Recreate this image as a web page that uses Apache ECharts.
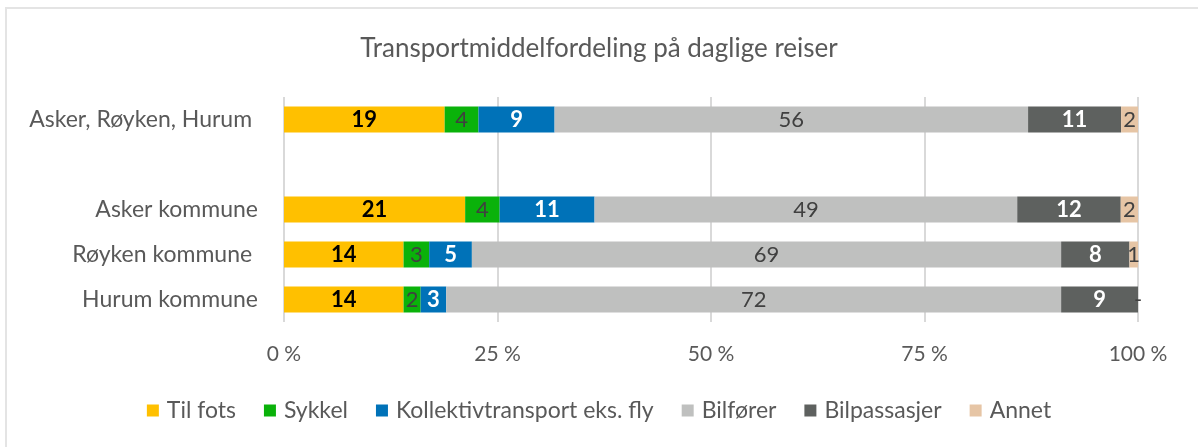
<!DOCTYPE html>
<html>
<head>
<meta charset="utf-8">
<script src="https://cdn.jsdelivr.net/npm/echarts@6/dist/echarts.min.js"></script>
<style>
  html, body { margin: 0; padding: 0; background: #fff; }
  #chart { width: 1198px; height: 447px; }
</style>
</head>
<body>
<div id="chart"></div>
<script>
// areas (the empty one is the gap row)
const areas = ['Asker, Røyken, Hurum ', '', 'Asker kommune', 'Røyken kommune ', 'Hurum kommune']

// share in percent, as labelled in the chart
const tilFots = [19, null, 21, 14, 14]
const sykkel = [4, null, 4, 3, 2]
const kollektiv = [9, null, 11, 5, 3]
const bilforer = [56, null, 49, 69, 72]
const bilpassasjer = [11, null, 12, 8, 9]
const annet = [2, null, 2, 1, 0]

const xTicks = ['0 %', '25 %', '50 %', '75 %', '100 %']

const font = 'Lato'
const groups = [
  { name: 'Til fots', data: tilFots, color: '#FFC000', text: '#000', bold: true },
  { name: 'Sykkel', data: sykkel, color: '#0AB20A', text: '#404040', bold: false },
  { name: 'Kollektivtransport eks. fly', data: kollektiv, color: '#0072B8', text: '#fff', bold: true },
  { name: 'Bilfører', data: bilforer, color: '#BFC0BF', text: '#404040', bold: false },
  { name: 'Bilpassasjer', data: bilpassasjer, color: '#5E615F', text: '#fff', bold: true },
  { name: 'Annet', data: annet, color: '#E6C5A5', text: '#404040', bold: false }
]

// bars are scaled so each row adds up to 100 %
const totals = areas.map((a, i) => groups.reduce((s, g) => s + (g.data[i] || 0), 0))

const chart = echarts.init(document.getElementById('chart'))
chart.setOption({
  backgroundColor: '#fff',
  animation: false,
  textStyle: { fontFamily: font },
  graphic: [{
    type: 'rect',
    shape: { x: 6, y: 8, width: 1300, height: 500 },
    style: { fill: 'none', stroke: '#e4e4e4', lineWidth: 2 },
    silent: true
  }],
  title: {
    text: 'Transportmiddelfordeling på daglige reiser',
    left: 'center',
    top: 31,
    textStyle: { fontFamily: font, fontSize: 26, fontWeight: 'normal', color: '#595959' }
  },
  legend: {
    bottom: 20,
    left: 'center',
    itemWidth: 12,
    itemHeight: 12,
    itemGap: 28,
    icon: 'rect',
    textStyle: { fontFamily: font, fontSize: 23, color: '#595959', padding: [0, 0, 0, 3] }
  },
  grid: { left: 284, right: 60, top: 97, bottom: 125 },
  xAxis: {
    type: 'value',
    min: 0,
    max: 100,
    interval: 25,
    axisLine: { show: false },
    axisTick: { show: false },
    splitLine: { lineStyle: { color: '#d9d9d9', width: 2 } },
    axisLabel: {
      margin: 22,
      fontFamily: font,
      fontSize: 21,
      color: '#595959',
      formatter: v => xTicks[v / 25]
    }
  },
  yAxis: {
    type: 'category',
    inverse: true,
    data: areas,
    axisLine: { show: false },
    axisTick: { show: false },
    axisLabel: { margin: 26, fontFamily: font, fontSize: 23, color: '#595959' }
  },
  series: groups.map(g => ({
    name: g.name,
    type: 'bar',
    stack: 'total',
    barWidth: 26,
    itemStyle: { color: g.color },
    label: {
      show: true,
      position: 'inside',
      fontFamily: font,
      fontSize: 22,
      color: g.text,
      fontWeight: g.bold ? 'bold' : 'normal',
      formatter: p => {
        const raw = g.data[p.dataIndex]
        if (raw === null) return ''
        return raw === 0 ? '-' : String(raw)
      }
    },
    data: g.data.map((v, i) => v === null ? null : v / totals[i] * 100)
  }))
})
</script>
</body>
</html>
